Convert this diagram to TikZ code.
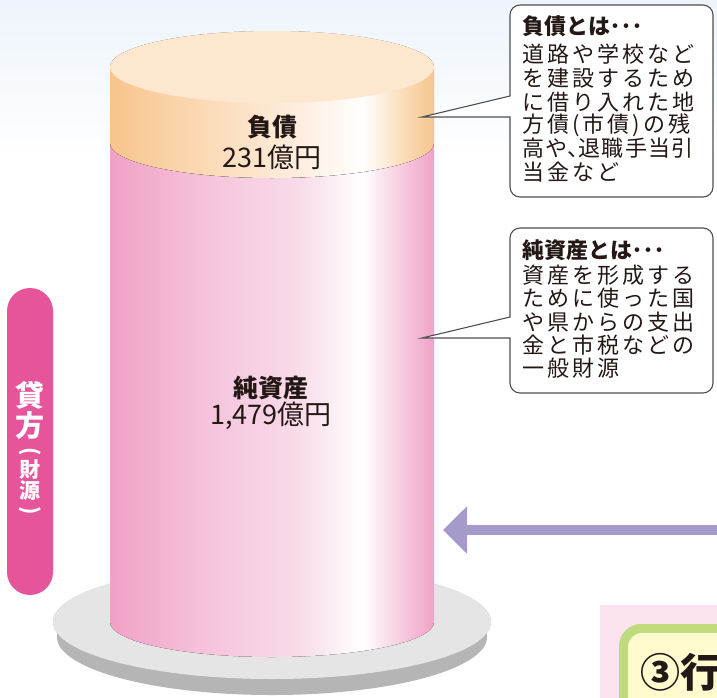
\documentclass[tikz,border=0pt]{standalone}
\usepackage{fontspec}
\newfontfamily\jp{Noto Sans CJK JP}
\newfontfamily\jpsp{Noto Sans CJK JP}[LetterSpace=13.6]
\usetikzlibrary{arrows.meta}
\definecolor{ink}{HTML}{231815}
\definecolor{bgblue}{HTML}{EDF4FB}
\definecolor{basedark}{HTML}{B5B5B5}
\definecolor{basetop}{HTML}{E5E5E5}
\definecolor{pkA}{HTML}{F0A1C6}
\definecolor{pkB}{HTML}{F5C1DA}
\definecolor{pkC}{HTML}{F9DCEA}
\definecolor{pkD}{HTML}{F6C6DC}
\definecolor{orA}{HTML}{F7C48C}
\definecolor{orB}{HTML}{FBD9B4}
\definecolor{orC}{HTML}{FEEEDF}
\definecolor{orD}{HTML}{FADBB6}
\definecolor{ortop}{HTML}{FDE7CE}
\definecolor{sidepink}{HTML}{E6549A}
\definecolor{arrowcol}{HTML}{A59AC9}
\definecolor{boxline}{HTML}{4F4F4F}
\definecolor{cornerpink}{HTML}{FAE3EF}
\definecolor{cgreen}{HTML}{BFDB7E}
\definecolor{cyellow}{HTML}{FFFBCF}
\tikzset{
  cltxt/.style={anchor=west, inner sep=0pt, text=ink, font=\jpsp\fontsize{22}{24}\selectfont},
  clhead/.style={anchor=west, inner sep=0pt, text=ink, font=\jp\bfseries\fontsize{22}{24}\selectfont},
  callout/.style={fill=white, draw=boxline, line width=1.1pt, line join=miter},
  cylhead/.style={inner sep=0pt, text=ink, font=\jp\bfseries\fontsize{25}{27}\selectfont},
  cylnum/.style={inner sep=0pt, text=ink, font=\jp\fontsize{27}{29}\selectfont},
  sidebig/.style={inner sep=0pt, text=white, font=\jp\bfseries\fontsize{29}{29}\selectfont},
  sidesmall/.style={inner sep=0pt, text=white, font=\jp\bfseries\fontsize{21}{21}\selectfont},
}
\newcommand{\hdots}{{\mdseries\addfontfeature{RawFeature=+halt}・・・}}
\begin{document}
\begin{tikzpicture}[x=1pt,y=-1pt]
\useasboundingbox (0,0) rectangle (717,697);
\clip (0,0) rectangle (717,697);
% background
\fill[white] (0,0) rectangle (717,697);
\fill[top color=bgblue, bottom color=white] (0,0) rectangle (717,160);

% base plate
\fill[basedark] (272,637) ellipse[x radius=215, y radius=58];
\fill[basedark] (272,622) ellipse[x radius=219, y radius=57];
\fill[basetop] (272,622) ellipse[x radius=219, y radius=57];

% pink body
\begin{scope}
\clip (110,143) -- (110,622) arc[start angle=180,end angle=0,x radius=162,y radius=35]
  -- (434,143) arc[start angle=0,end angle=180,x radius=162,y radius=35] -- cycle;
\fill[left color=pkA, right color=pkB] (109,130) rectangle (200.5,670);
\fill[left color=pkB, right color=pkC] (200,130) rectangle (300.5,670);
\fill[left color=pkC, right color=white] (300,130) rectangle (362.5,670);
\fill[left color=white, right color=pkD] (362,130) rectangle (405.5,670);
\fill[left color=pkD, right color=pkA] (405,130) rectangle (435,670);
\end{scope}

% orange band
\begin{scope}
\clip (110,67) -- (110,143) arc[start angle=180,end angle=0,x radius=162,y radius=35]
  -- (434,67) arc[start angle=0,end angle=-180,x radius=162,y radius=36] -- cycle;
\fill[left color=orA, right color=orB] (109,25) rectangle (200.5,190);
\fill[left color=orB, right color=orC] (200,25) rectangle (300.5,190);
\fill[left color=orC, right color=white] (300,25) rectangle (362.5,190);
\fill[left color=white, right color=orD] (362,25) rectangle (405.5,190);
\fill[left color=orD, right color=orA] (405,25) rectangle (435,190);
\end{scope}
\fill[ortop] (272,67) ellipse[x radius=162, y radius=36];

% cylinder labels
\node[cylhead] (debtT) at (272,127) {負債};
\node[cylnum] (debtV) at (272,157) {231億円};
\node[cylhead] (eqT) at (271,388) {純資産};
\node[cylnum] (eqV) at (271,416) {1,479億円};

% callout 1
\path[callout] (510,117) -- (422,117) -- (510,96) -- (510,15)
  arc[start angle=180,end angle=270,radius=10] -- (703,5)
  arc[start angle=270,end angle=360,radius=10] -- (713,187)
  arc[start angle=0,end angle=90,radius=10] -- (520,197)
  arc[start angle=90,end angle=180,radius=10] -- cycle;
\node[clhead] (c1a) at (522,26) {負債とは\hdots};
\node[cltxt] (c1b) at (522,54) {道路や学校など};
\node[cltxt] (c1c) at (522,78) {を建設するため};
\node[cltxt] (c1d) at (522,102) {に借り入れた地};
\node[cltxt] (c1e) at (522,125) {方債(市債)の残};
\node[cltxt] (c1f) at (522,148) {\addfontfeature{LetterSpace=6}高や{\addfontfeature{RawFeature=+halt}、}退職手当引};
\node[cltxt] (c1g) at (522,172) {当金など};

% callout 2
\path[callout] (510,338) -- (422,338) -- (510,317) -- (510,238)
  arc[start angle=180,end angle=270,radius=10] -- (703,228)
  arc[start angle=270,end angle=360,radius=10] -- (713,383)
  arc[start angle=0,end angle=90,radius=10] -- (520,393)
  arc[start angle=90,end angle=180,radius=10] -- cycle;
\node[clhead] (c2a) at (522,250) {純資産とは\hdots};
\node[cltxt] (c2b) at (522,275) {資産を形成する};
\node[cltxt] (c2c) at (522,298) {ために使った国};
\node[cltxt] (c2d) at (522,322) {や県からの支出};
\node[cltxt] (c2e) at (522,345) {金と市税などの};
\node[cltxt] (c2f) at (522,368) {一般財源};

% arrow
\coordinate (arrS) at (730,530);
\coordinate (arrT) at (443,530);
\draw[arrowcol, line width=10pt, -{Triangle[length=24pt,width=46pt]}] (arrS) -- (arrT);

% side bar
\fill[sidepink, rounded corners=23pt] (7,288) rectangle (53,595);
\node[sidebig] (s1) at (30,395) {貸};
\node[sidebig] (s2) at (30,426) {方};
\node[sidesmall, rotate=-90] (s3) at (30,452) {(};
\node[sidesmall] (s4) at (30,470) {財};
\node[sidesmall] (s5) at (30,491) {源};
\node[sidesmall, rotate=-90] (s6) at (30,511) {)};

% bottom-right corner
\fill[cornerpink] (600,605) rectangle (740,720);
\fill[cgreen, rounded corners=22pt] (619,624) rectangle (760,740);
\fill[cyellow, rounded corners=14pt] (628,633) rectangle (760,740);
\node[anchor=west, inner sep=0pt, text=ink, font=\jp\bfseries\fontsize{40}{40}\selectfont] (t3) at (640,672) {③行};
\end{tikzpicture}
\end{document}
